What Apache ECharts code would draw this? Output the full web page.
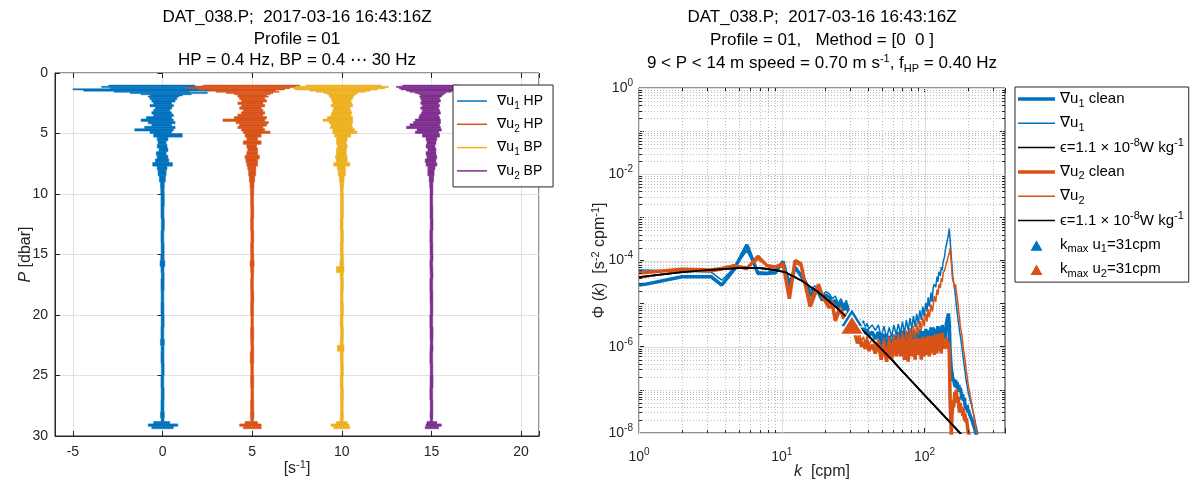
<!DOCTYPE html>
<html>
<head>
<meta charset="utf-8">
<script src="https://cdn.jsdelivr.net/npm/echarts@6.0.0/dist/echarts.min.js"></script>
<style>html,body{margin:0;padding:0;background:#fff}#c{width:1194px;height:489px}</style>
</head>
<body>
<div id="c"></div>
<script>
// ---------------- DATA ----------------
// Left panel: shear profiles (envelope of each trace: left / right deviation about its offset) vs pressure
const traceNames = ['u1HP', 'u2HP', 'u1BP', 'u2BP'];
const traceOffsets = [0, 5, 10, 15];
const P = [1.0,1.1,1.2,1.3,1.4,1.5,1.6,1.7,1.8,1.9,
           2.0,2.2,2.4,2.6,2.8,3.0,3.2,3.4,3.6,3.8,
           4.0,4.2,4.4,4.6,4.8,5.0,5.3,5.6,5.9,6.2,
           6.5,6.8,7.1,7.4,7.7,8.0,8.5,9.0,9.5,10,
           11,12,13,14,15,15.5,16,16.5,17,18,
           19,20,21,22,22.5,23,24,25,26,27,
           28,28.5,28.8,29.0,29.2,29.4];
const u1HP_L = [-3.0,-3.4,-2.9,-5.0,-4.4,-2.7,-1.8,-1.2,-0.7,-0.8,
                -0.7,-0.6,-0.5,-0.7,-0.4,-0.5,-0.6,-0.5,-0.9,-1.2,
                -0.8,-0.6,-1.0,-1.55,-0.7,-0.5,-0.3,-0.25,-0.3,-0.2,
                -0.35,-0.3,-0.4,-0.55,-0.3,-0.25,-0.18,-0.12,-0.1,-0.09,
                -0.09,-0.07,-0.09,-0.08,-0.1,-0.14,-0.09,-0.07,-0.09,-0.08,
                -0.09,-0.08,-0.09,-0.12,-0.08,-0.09,-0.07,-0.09,-0.08,-0.09,
                -0.12,-0.08,-0.5,-0.8,-0.6,-0.2];
const u1HP_R = [1.8,2.3,2.0,2.9,2.6,1.5,2.5,1.6,1.1,0.9,
                0.8,0.7,0.5,0.6,0.5,0.4,0.5,0.6,0.5,0.6,
                0.7,0.5,0.7,0.6,0.5,1.1,0.3,0.2,0.25,0.3,
                0.2,0.3,0.35,0.55,0.25,0.2,0.16,0.1,0.09,0.1,
                0.08,0.1,0.07,0.09,0.09,0.13,0.08,0.09,0.09,0.07,
                0.08,0.09,0.07,0.1,0.08,0.08,0.09,0.07,0.09,0.08,
                0.1,0.08,0.4,0.85,0.6,0.2];
const u2HP_L = [-2.75,-3.2,-3.67,-3.0,-2.4,-2.0,-1.44,-1.0,-0.8,-0.8,
                -0.7,-0.6,-0.8,-0.6,-0.7,-0.5,-0.6,-0.8,-1.0,-1.63,
                -0.9,-0.7,-0.8,-0.6,-0.5,-0.4,-0.3,-0.5,-0.3,-0.25,
                -0.3,-0.4,-0.35,-0.3,-0.25,-0.2,-0.16,-0.12,-0.1,-0.09,
                -0.08,-0.09,-0.07,-0.09,-0.08,-0.12,-0.09,-0.07,-0.09,-0.08,
                -0.09,-0.07,-0.09,-0.08,-0.07,-0.11,-0.08,-0.09,-0.07,-0.09,
                -0.1,-0.08,-0.4,-0.7,-0.5,-0.2];
const u2HP_R = [2.65,2.4,2.1,1.8,1.3,1.5,1.16,1.0,0.8,0.9,
                0.7,0.8,0.6,0.7,0.5,0.6,0.7,0.6,0.8,0.7,
                0.9,0.8,0.6,0.7,1.0,0.5,0.3,0.5,0.25,0.3,
                0.3,0.4,0.3,0.3,0.2,0.2,0.14,0.1,0.09,0.08,
                0.09,0.07,0.09,0.08,0.09,0.11,0.09,0.08,0.07,0.09,
                0.08,0.07,0.09,0.08,0.09,0.09,0.07,0.09,0.08,0.09,
                0.1,0.08,0.3,0.5,0.5,0.2];
const u1BP_L = [-2.0,-2.5,-2.7,-2.6,-1.8,-1.4,-1.0,-0.8,-0.7,-0.7,
                -0.6,-0.55,-0.5,-0.6,-0.45,-0.5,-0.55,-0.6,-0.8,-1.05,
                -0.7,-0.6,-0.65,-0.5,-0.5,-0.4,-0.3,-0.3,-0.25,-0.3,
                -0.3,-0.35,-0.3,-0.45,-0.25,-0.2,-0.14,-0.1,-0.08,-0.08,
                -0.08,-0.09,-0.07,-0.09,-0.08,-0.11,-0.3,-0.09,-0.07,-0.08,
                -0.08,-0.09,-0.07,-0.09,-0.25,-0.09,-0.07,-0.09,-0.08,-0.07,
                -0.08,-0.09,-0.3,-0.6,-0.45,-0.15];
const u1BP_R = [2.2,2.6,2.4,2.0,1.6,1.3,0.9,0.8,0.7,0.65,
                0.6,0.5,0.55,0.6,0.45,0.5,0.55,0.5,0.6,0.6,
                0.6,0.55,0.6,0.7,0.85,0.5,0.3,0.25,0.3,0.25,
                0.25,0.3,0.3,0.45,0.2,0.2,0.13,0.1,0.08,0.09,
                0.09,0.07,0.09,0.08,0.09,0.1,0.12,0.08,0.09,0.07,
                0.09,0.07,0.09,0.08,0.12,0.08,0.09,0.07,0.09,0.08,
                0.09,0.08,0.3,0.4,0.45,0.15];
const u2BP_L = [-1.6,-1.95,-1.8,-1.7,-1.4,-1.2,-0.9,-0.7,-0.6,-0.65,
                -0.6,-0.55,-0.6,-0.5,-0.6,-0.5,-0.55,-0.65,-0.7,-0.9,
                -1.0,-1.2,-1.39,-0.8,-0.9,-0.5,-0.3,-0.25,-0.3,-0.2,
                -0.3,-0.25,-0.35,-0.3,-0.2,-0.2,-0.13,-0.1,-0.08,-0.08,
                -0.08,-0.07,-0.09,-0.08,-0.07,-0.09,-0.08,-0.07,-0.09,-0.08,
                -0.07,-0.09,-0.08,-0.07,-0.08,-0.09,-0.07,-0.08,-0.09,-0.07,
                -0.08,-0.07,-0.25,-0.3,-0.35,-0.1];
const u2BP_R = [1.6,2.0,1.8,1.6,1.3,1.1,0.8,0.7,0.6,0.55,
                0.45,0.5,0.4,0.45,0.4,0.45,0.5,0.4,0.45,0.5,
                0.5,0.45,0.5,0.55,0.4,0.45,0.3,0.25,0.2,0.25,
                0.25,0.3,0.25,0.3,0.2,0.15,0.12,0.08,0.08,0.07,
                0.08,0.09,0.07,0.08,0.09,0.07,0.08,0.09,0.07,0.08,
                0.08,0.07,0.09,0.08,0.09,0.07,0.08,0.09,0.07,0.08,
                0.08,0.07,0.3,0.55,0.4,0.1];

// Right panel: wavenumber spectra
const kSpec = [1.0,1.1,2.0,3.2,3.8,4.6,5.7,6.8,7.9,9.0,
               10.2,11.3,12.4,13.6,14.7,15.8,17.0,18.1,19.2,20.3,
               21.5,22.6,23.7,24.9,26.0,27.1,28.3,29.4,30.5,31.6,
               32.8,33.9,35.0,36.2,37.3,38.4,39.6,40.7,43.0,45.2,
               47.5,49.7,52.0,54.2,56.5,58.8,61.0,63.3,65.5,67.8,
               70.0,72.3,74.6,76.8,79.1,81.4,83.6,85.9,88.1,90.4,
               92.7,94.9,97.2,99.4,102,104,106,108,111,113,
               115,117,120,122,124,126,129,131,133,135,
               138,140,142,144,147,149,151,154,156,158,
               160,163,165,167,169,172,174,176,178,181,
               183,185,187,190,192,194,196,199,201,203,
               206,208,210,215,219,224,228,233,237,242];
const phiU1clean = [2.7e-5,2.8e-5,4.2e-5,4.2e-5,2.7e-5,6.0e-5,2.3e-4,5.0e-5,5.0e-5,5.2e-5,
               9.5e-5,2.5e-5,7.0e-5,4.5e-5,3.0e-5,1.5e-5,2.2e-5,1.8e-5,1.2e-5,1.6e-5,
               1.4e-5,1.0e-5,1.2e-5,8.0e-6,1.1e-5,7.0e-6,1.0e-5,6.0e-6,5.0e-6,4.5e-6,
               4.0e-6,3.0e-6,3.5e-6,2.5e-6,3.0e-6,2.0e-6,2.6e-6,1.8e-6,2.2e-6,1.5e-6,
               2.2e-6,1.0e-6,2.0e-6,8.0e-7,1.8e-6,7.5e-7,1.9e-6,9.0e-7,2.2e-6,1.0e-6,
               2.4e-6,9.0e-7,2.2e-6,1.0e-6,2.6e-6,1.1e-6,2.4e-6,9.0e-7,2.2e-6,1.1e-6,
               2.5e-6,1.0e-6,2.3e-6,9.0e-7,2.6e-6,1.1e-6,2.4e-6,1.0e-6,2.8e-6,1.2e-6,
               2.8e-6,1.1e-6,2.6e-6,1.2e-6,3.0e-6,1.3e-6,2.8e-6,1.2e-6,3.2e-6,1.4e-6,
               2.8e-6,1.3e-6,3.4e-6,3.2e-6,5.9e-6,3.5e-6,8.0e-7,3.0e-7,2.4e-7,1.6e-7,
               1.8e-7,1.2e-7,1.7e-7,1.1e-7,1.5e-7,1.0e-7,1.3e-7,9.0e-8,1.1e-7,8.0e-8,
               6.0e-8,8.0e-8,5.5e-8,6.5e-8,4.5e-8,5.0e-8,3.5e-8,4.5e-8,3.0e-8,3.5e-8,
               2.8e-8,3.0e-8,2.4e-8,2.0e-8,1.6e-8,1.3e-8,1.0e-8,8.0e-9,6.0e-9,5.0e-9];
const phiU1 = [6.0e-5,6.0e-5,5.6e-5,5.4e-5,3.5e-5,6.5e-5,1.7e-4,5.5e-5,5.3e-5,6.0e-5,
               9.0e-5,3.5e-5,6.0e-5,5.0e-5,3.5e-5,2.0e-5,2.6e-5,2.2e-5,1.5e-5,1.9e-5,
               1.7e-5,1.3e-5,1.5e-5,1.0e-5,1.3e-5,9.0e-6,1.2e-5,7.5e-6,6.0e-6,5.5e-6,
               4.8e-6,3.8e-6,4.5e-6,3.2e-6,4.0e-6,2.8e-6,3.5e-6,2.6e-6,3.2e-6,2.4e-6,
               3.2e-6,1.7e-6,3.0e-6,1.6e-6,2.8e-6,1.7e-6,3.2e-6,1.9e-6,3.4e-6,2.0e-6,
               3.8e-6,2.1e-6,4.2e-6,2.4e-6,4.6e-6,2.6e-6,5.2e-6,2.9e-6,5.8e-6,3.4e-6,
               7.0e-6,4.2e-6,8.5e-6,5.0e-6,1.05e-5,6.5e-6,1.4e-5,8.5e-6,1.8e-5,1.1e-5,
               2.4e-5,2.8e-5,2.4e-5,4.2e-5,3.2e-5,5.5e-5,4.4e-5,7.0e-5,6.0e-5,9.5e-5,
               1.2e-4,1.8e-4,2.0e-4,2.8e-4,4.0e-4,5.5e-4,3.0e-4,1.2e-4,7.0e-5,4.0e-5,
               3.0e-5,2.0e-5,1.4e-5,9.0e-6,6.5e-6,4.0e-6,3.2e-6,2.2e-6,1.8e-6,1.2e-6,
               9.0e-7,7.0e-7,5.0e-7,3.5e-7,2.8e-7,2.0e-7,1.6e-7,1.2e-7,1.0e-7,8.0e-8,
               7.0e-8,6.0e-8,5.5e-8,4.0e-8,3.0e-8,2.2e-8,1.6e-8,1.2e-8,9.0e-9,7.0e-9];
const phiU2clean = [5.2e-5,5.3e-5,6.3e-5,6.0e-5,6.5e-5,7.5e-5,6.5e-5,1.25e-4,7.5e-5,7.0e-5,
               8.5e-5,1.3e-5,1.0e-4,8.5e-5,2.5e-5,8.5e-6,1.6e-5,2.8e-5,1.5e-5,1.1e-5,
               8.0e-6,1.0e-5,4.0e-6,6.0e-6,7.0e-6,4.5e-6,5.0e-6,3.5e-6,3.0e-6,3.2e-6,
               1.8e-6,1.2e-6,1.6e-6,1.0e-6,1.3e-6,9.0e-7,1.4e-6,8.0e-7,1.1e-6,7.0e-7,
               1.2e-6,5.0e-7,1.1e-6,4.5e-7,1.3e-6,5.0e-7,1.4e-6,6.0e-7,1.5e-6,6.0e-7,
               1.6e-6,5.0e-7,1.4e-6,4.5e-7,1.7e-6,6.0e-7,1.5e-6,5.0e-7,1.6e-6,6.5e-7,
               1.5e-6,5.0e-7,1.7e-6,6.0e-7,1.6e-6,6.5e-7,1.8e-6,6.0e-7,1.7e-6,7.0e-7,
               1.8e-6,6.5e-7,1.9e-6,7.0e-7,2.0e-6,8.0e-7,1.9e-6,7.0e-7,2.1e-6,9.0e-7,
               1.5e-6,9.0e-7,1.6e-6,1.0e-6,1.3e-6,6.9e-7,5.7e-8,9.0e-9,3.0e-8,5.7e-8,
               4.0e-8,9.0e-8,6.0e-8,1.0e-7,5.0e-8,7.0e-8,4.0e-8,3.0e-8,5.0e-8,3.0e-8,
               4.0e-8,2.5e-8,3.5e-8,2.0e-8,2.8e-8,1.8e-8,2.2e-8,1.6e-8,1.2e-8,1.0e-8,
               9.0e-9,8.0e-9,7.0e-9,6.0e-9,5.0e-9,4.0e-9,3.5e-9,3.0e-9,2.5e-9,2.0e-9];
const phiU2 = [4.0e-5,4.1e-5,5.8e-5,5.5e-5,6.0e-5,8.0e-5,7.0e-5,1.05e-4,8.0e-5,7.5e-5,
               7.0e-5,2.0e-5,8.5e-5,7.5e-5,3.0e-5,1.2e-5,2.0e-5,2.4e-5,1.3e-5,1.4e-5,
               1.0e-5,1.2e-5,5.0e-6,7.5e-6,8.5e-6,5.5e-6,6.0e-6,4.5e-6,4.0e-6,3.8e-6,
               2.2e-6,1.5e-6,2.0e-6,1.3e-6,1.7e-6,1.2e-6,1.8e-6,1.1e-6,1.5e-6,1.0e-6,
               1.5e-6,8.0e-7,1.6e-6,7.0e-7,1.7e-6,9.0e-7,1.9e-6,1.0e-6,2.0e-6,1.1e-6,
               2.2e-6,1.1e-6,2.4e-6,1.2e-6,2.7e-6,1.4e-6,3.0e-6,1.6e-6,3.5e-6,1.9e-6,
               4.0e-6,2.4e-6,4.8e-6,3.0e-6,6.0e-6,3.8e-6,7.5e-6,4.8e-6,9.5e-6,6.5e-6,
               9.0e-6,1.5e-5,1.1e-5,2.1e-5,1.6e-5,2.8e-5,2.3e-5,3.9e-5,3.2e-5,5.2e-5,
               6.0e-5,7.0e-5,8.5e-5,1.0e-4,1.3e-4,1.5e-4,1.9e-4,9.0e-5,4.5e-5,3.5e-5,
               3.0e-5,2.2e-5,2.8e-5,1.8e-5,1.5e-5,9.0e-6,6.0e-6,4.5e-6,3.0e-6,2.2e-6,
               1.8e-6,1.3e-6,9.0e-7,6.5e-7,5.0e-7,3.8e-7,2.8e-7,2.0e-7,1.5e-7,1.2e-7,
               1.0e-7,8.0e-8,6.5e-8,4.5e-8,3.0e-8,2.0e-8,1.3e-8,9.0e-9,7.0e-9,5.0e-9];
// Nasmyth spectrum for epsilon = 1.1e-8 W/kg
const nasK = [1,2,3,5,7,9,10.5,12,14,16,18,21,24,27,31,35,40,50,60,70,85,100,120,140,160,180,200];
const nasPhi = [4.1e-5,5.4e-5,6.0e-5,6.7e-5,6.7e-5,6.0e-5,5.4e-5,4.3e-5,3.3e-5,2.4e-5,1.85e-5,1.2e-5,8.3e-6,5.7e-6,3.7e-6,2.7e-6,1.86e-6,8.8e-7,4.7e-7,2.7e-7,1.35e-7,7.6e-8,4.0e-8,2.3e-8,1.45e-8,9.4e-9,6.0e-9];
// k_max markers
const kmaxK = [31, 31];
const kmaxPhi = [4.8e-6, 3.2e-6];

// Tick / grid positions of the log axes
const xLogMajor = [1, 10, 100];
const xLogMinor = [2,3,4,5,6,7,8,9,20,30,40,50,60,70,80,90,200,300];
const yLogMajor = [1, 1e-2, 1e-4, 1e-6, 1e-8];
const yLogDecades = [1e-8,1e-7,1e-6,1e-5,1e-4,1e-3,1e-2,1e-1];
const yLogOddDecades = [1e-7,1e-5,1e-3,1e-1];
const minorMult = [2,3,4,5,6,7,8,9];

// Text
const titleLeft = ['DAT_038.P;  2017-03-16 16:43:16Z', 'Profile = 01', 'HP = 0.4 Hz, BP = 0.4 \u22EF 30 Hz'];
const titleRight = ['DAT_038.P;  2017-03-16 16:43:16Z', 'Profile = 01,   Method = [0  0 ]',
                    '9 < P < 14 m speed = 0.70 m s{sup|-1}, f{sub|HP} = 0.40 Hz'];
const legendLabels = {
  u1HP: '\u2207u{sub|1} HP', u2HP: '\u2207u{sub|2} HP', u1BP: '\u2207u{sub|1} BP', u2BP: '\u2207u{sub|2} BP',
  u1c: '\u2207u{sub|1} clean', u1: '\u2207u{sub|1}', eps1: '\u03F5=1.1 \u00D7 10{sup|-8}W kg{sup|-1}',
  u2c: '\u2207u{sub|2} clean', u2: '\u2207u{sub|2}', eps2: '\u03F5=1.1 \u00D7 10{sup|-8}W kg{sup|-1}',
  kmax1: 'k{sub|max} u{sub|1}=31cpm', kmax2: 'k{sub|max} u{sub|2}=31cpm'
};

// ---------------- STYLE ----------------
const FONT = 'Liberation Sans, Arial, DejaVu Sans, sans-serif';
const AX = '#262626';
const C = {blue: '#0072BD', orange: '#D95319', yellow: '#EDB120', purple: '#7E2F8E'};
const traceColors = [C.blue, C.orange, C.yellow, C.purple];
const traceL = [u1HP_L, u2HP_L, u1BP_L, u2BP_L];
const traceR = [u1HP_R, u2HP_R, u1BP_R, u2BP_R];

function rich(size, color) {
  return {
    sup: {fontFamily: FONT, fontSize: size, lineHeight: size, verticalAlign: 'top', color: color},
    sub: {fontFamily: FONT, fontSize: size, lineHeight: size, verticalAlign: 'bottom', color: color},
    it: {fontFamily: FONT, fontStyle: 'italic', color: color}
  };
}

// each row: [left edge, right edge, P top, P bottom]
function buildTrace(L, R, off) {
  const rows = [];
  for (let i = 0; i < P.length - 1; i++) rows.push([off + L[i], off + R[i], P[i], P[i + 1]]);
  return rows;
}
function renderTrace(params, api) {
  const a = api.coord([api.value(0), api.value(2)]);
  const b = api.coord([api.value(1), api.value(3)]);
  const col = api.visual('color');
  return {type: 'rect', shape: {x: a[0], y: a[1], width: b[0] - a[0], height: b[1] - a[1]},
    style: {fill: col, stroke: col, lineWidth: 0.5}};
}
function renderLogGrid(params, api) {
  const cs = params.coordSys;
  const ch = [];
  const vline = (v, major) => {
    const x = Math.round(api.coord([v, 1e-4])[0]) + 0.5;
    ch.push({type: 'line', shape: {x1: x, y1: cs.y, x2: x, y2: cs.y + cs.height},
      style: {stroke: major ? '#dedede' : '#bdbdbd', lineWidth: 1, lineDash: major ? null : [1, 2]}});
  };
  const hline = (v, major) => {
    const y = Math.round(api.coord([10, v])[1]) + 0.5;
    ch.push({type: 'line', shape: {x1: cs.x, y1: y, x2: cs.x + cs.width, y2: y},
      style: {stroke: major ? '#dedede' : '#bdbdbd', lineWidth: 1, lineDash: major ? null : [1, 2]}});
  };
  xLogMinor.forEach(v => vline(v, false));
  yLogDecades.forEach(d => minorMult.forEach(m => hline(d * m, false)));
  yLogOddDecades.forEach(v => hline(v, false));
  xLogMajor.forEach(v => vline(v, true));
  yLogMajor.forEach(v => hline(v, true));
  return {type: 'group', children: ch};
}
function renderLogTicks(params, api) {
  const cs = params.coordSys;
  const ch = [];
  const st = {stroke: AX, lineWidth: 1};
  xLogMinor.forEach(v => {
    const x = Math.round(api.coord([v, 1e-4])[0]) + 0.5;
    ch.push({type: 'line', shape: {x1: x, y1: cs.y + cs.height, x2: x, y2: cs.y + cs.height - 3}, style: st});
    ch.push({type: 'line', shape: {x1: x, y1: cs.y, x2: x, y2: cs.y + 3}, style: st});
  });
  yLogDecades.forEach(d => minorMult.forEach(m => {
    const y = Math.round(api.coord([10, d * m])[1]) + 0.5;
    ch.push({type: 'line', shape: {x1: cs.x, y1: y, x2: cs.x + 3, y2: y}, style: st});
    ch.push({type: 'line', shape: {x1: cs.x + cs.width, y1: y, x2: cs.x + cs.width - 3, y2: y}, style: st});
  }));
  return {type: 'group', children: ch};
}
function powLabel(v) {
  const e = Math.log10(v), r = Math.round(e);
  if (Math.abs(e - r) > 1e-6) return '';
  return '10{sup|' + r + '}';
}
function powLabelEven(v) {
  const e = Math.log10(v), r = Math.round(e);
  if (Math.abs(e - r) > 1e-6 || r % 2 !== 0) return '';
  return '10{sup|' + r + '}';
}

const tick = {show: true, inside: true, length: 5, lineStyle: {color: AX, width: 1}};
const axLine = {show: true, onZero: false, lineStyle: {color: AX, width: 1}};
const lblBase = {color: AX, fontFamily: FONT, fontSize: 14};

const thick = 'path://M0,0M37,14M0,5.25L37,5.25L37,8.75L0,8.75Z';
const thin37 = 'path://M0,0M37,14M0,6.25L37,6.25L37,7.75L0,7.75Z';
const thin35 = 'path://M0,0M35,14M0,6.25L30,6.25L30,7.75L0,7.75Z';
const tri37 = 'path://M0,0M37,14M12.5,13L18.5,2.5L24.5,13Z';

const series = [];
traceNames.forEach((n, i) => {
  series.push({
    type: 'custom', name: n, xAxisIndex: 0, yAxisIndex: 0,
    renderItem: renderTrace, data: buildTrace(traceL[i], traceR[i], traceOffsets[i]),
    encode: {x: [0, 1], y: [2, 3]}, itemStyle: {color: traceColors[i]},
    silent: true, animation: false, z: 2
  });
});
series.push({type: 'custom', name: 'gridLog', xAxisIndex: 2, yAxisIndex: 2, renderItem: renderLogGrid,
  data: [[10, 1e-4]], silent: true, animation: false, z: 1});
function specLine(name, phi, color, width) {
  return {type: 'line', name: name, xAxisIndex: 2, yAxisIndex: 2,
    data: kSpec.map((k, i) => [k, phi[i]]), symbol: 'none', showSymbol: false,
    lineStyle: {color: color, width: width}, itemStyle: {color: color},
    silent: true, animation: false, clip: true, z: 2};
}
function nasLine(name) {
  return {type: 'line', name: name, xAxisIndex: 2, yAxisIndex: 2,
    data: nasK.map((k, i) => [k, nasPhi[i]]), symbol: 'none', showSymbol: false,
    lineStyle: {color: '#000', width: 1.8}, itemStyle: {color: '#000'},
    silent: true, animation: false, clip: true, z: 2};
}
series.push(specLine('u1c', phiU1clean, C.blue, 3.5));
series.push(specLine('u1', phiU1, C.blue, 1.5));
series.push(nasLine('eps1'));
series.push(specLine('u2c', phiU2clean, C.orange, 3.5));
series.push(specLine('u2', phiU2, C.orange, 1.5));
series.push(nasLine('eps2'));
['kmax1', 'kmax2'].forEach((n, i) => {
  series.push({type: 'scatter', name: n, xAxisIndex: 2, yAxisIndex: 2,
    data: [[kmaxK[i], kmaxPhi[i]]], symbol: 'triangle', symbolSize: [24, 19],
    itemStyle: {color: i === 0 ? C.blue : C.orange, borderColor: '#fff', borderWidth: 1.5, opacity: 1},
    silent: true, animation: false, z: 3});
});
series.push({type: 'custom', name: 'ticksLog', xAxisIndex: 2, yAxisIndex: 2, renderItem: renderLogTicks,
  data: [[10, 1e-4]], silent: true, animation: false, z: 4});

function titleItem(text, x, top) {
  return {text: text, left: x, top: top, textAlign: 'center', padding: 0,
    textStyle: {fontFamily: FONT, fontSize: 17, fontWeight: 'normal', color: '#000', lineHeight: 21,
      rich: rich(11, '#000')}};
}
const nameStyle = {fontFamily: FONT, fontSize: 16, color: AX, lineHeight: 20, rich: rich(11, AX)};

const option = {
  backgroundColor: '#fff',
  animation: false,
  textStyle: {fontFamily: FONT},
  title: [
    titleItem(titleLeft[0], 297, 7), titleItem(titleLeft[1], 297, 28.5), titleItem(titleLeft[2], 297, 50),
    titleItem(titleRight[0], 822, 7), titleItem(titleRight[1], 822, 29.5), titleItem(titleRight[2], 822, 53)
  ],
  grid: [
    {left: 55, top: 73, width: 484, height: 363, show: true, borderColor: AX, borderWidth: 1, backgroundColor: 'transparent', containLabel: false, outerBoundsMode: 'none'},
    {left: 639, top: 88, width: 366, height: 345, show: true, borderColor: AX, borderWidth: 1, backgroundColor: 'transparent', containLabel: false, outerBoundsMode: 'none'}
  ],
  xAxis: [
    {gridIndex: 0, type: 'value', min: -6, max: 21, position: 'bottom',
     axisLine: axLine, axisTick: tick,
     axisLabel: Object.assign({}, lblBase, {margin: 8, lineHeight: 16, formatter: v => (v % 5 === 0 ? String(v) : '')}),
     splitLine: {show: true, lineStyle: {color: '#e0e0e0', width: 1}},
     name: '[s{sup|-1}]', nameLocation: 'middle', nameGap: 23, nameMoveOverlap: false, nameTextStyle: nameStyle},
    {gridIndex: 0, type: 'value', min: -6, max: 21, position: 'top',
     axisLine: {show: false}, axisTick: tick, axisLabel: {show: false}, splitLine: {show: false}},
    {gridIndex: 1, type: 'log', logBase: 10, min: 1, max: 366, position: 'bottom',
     axisLine: axLine, axisTick: tick,
     axisLabel: Object.assign({}, lblBase, {margin: 14, lineHeight: 20, formatter: powLabel, rich: rich(10, AX)}),
     splitLine: {show: false}, minorTick: {show: false}, minorSplitLine: {show: false},
     name: '{it|k}  [cpm]', nameLocation: 'middle', nameGap: 29, nameMoveOverlap: false, nameTextStyle: nameStyle},
    {gridIndex: 1, type: 'log', logBase: 10, min: 1, max: 366, position: 'top',
     axisLine: {show: false}, axisTick: tick, axisLabel: {show: false}, splitLine: {show: false}}
  ],
  yAxis: [
    {gridIndex: 0, type: 'value', min: 0, max: 30, interval: 5, inverse: true, position: 'left',
     axisLine: axLine, axisTick: tick,
     axisLabel: Object.assign({}, lblBase, {margin: 7, lineHeight: 16}),
     splitLine: {show: true, lineStyle: {color: '#e0e0e0', width: 1}},
     name: '{it|P} [dbar]', nameLocation: 'middle', nameGap: 19, nameRotate: 90, nameMoveOverlap: false,
     nameTextStyle: nameStyle},
    {gridIndex: 0, type: 'value', min: 0, max: 30, interval: 5, inverse: true, position: 'right',
     axisLine: {show: false}, axisTick: tick, axisLabel: {show: false}, splitLine: {show: false}},
    {gridIndex: 1, type: 'log', logBase: 10, min: 1e-8, max: 1, position: 'left',
     axisLine: axLine, axisTick: tick,
     axisLabel: Object.assign({}, lblBase, {margin: 6, lineHeight: 20, formatter: powLabelEven, rich: rich(10, AX)}),
     splitLine: {show: false}, minorTick: {show: false}, minorSplitLine: {show: false},
     name: '\u03A6 ({it|k})  [s{sup|-2} cpm{sup|-1}]', nameLocation: 'middle', nameGap: 29, nameRotate: 90,
     nameMoveOverlap: false, nameTextStyle: nameStyle},
    {gridIndex: 1, type: 'log', logBase: 10, min: 1e-8, max: 1, position: 'right',
     axisLine: {show: false}, axisTick: tick, axisLabel: {show: false}, splitLine: {show: false}}
  ],
  legend: [
    {orient: 'vertical', left: 453, top: 85, padding: [6, 10, 6, 4], itemGap: 3.3,
     itemWidth: 35, itemHeight: 14, backgroundColor: '#fff', borderColor: AX, borderWidth: 1, borderRadius: 0,
     selectedMode: false, itemStyle: {borderWidth: 0},
     data: traceNames.map(n => ({name: n, icon: thin35})),
     formatter: n => legendLabels[n],
     textStyle: {fontFamily: FONT, fontSize: 14, color: '#000', lineHeight: 20, rich: rich(10, '#000')}},
    {orient: 'vertical', left: 1015, top: 87, padding: [2, 5, 3, 3], itemGap: 4.3,
     itemWidth: 37, itemHeight: 14, backgroundColor: '#fff', borderColor: AX, borderWidth: 1, borderRadius: 0,
     selectedMode: false, itemStyle: {borderWidth: 0},
     data: [
       {name: 'u1c', icon: thick}, {name: 'u1', icon: thin37}, {name: 'eps1', icon: thin37},
       {name: 'u2c', icon: thick}, {name: 'u2', icon: thin37}, {name: 'eps2', icon: thin37},
       {name: 'kmax1', icon: tri37}, {name: 'kmax2', icon: tri37}
     ],
     formatter: n => legendLabels[n],
     textStyle: {fontFamily: FONT, fontSize: 15, color: '#000', lineHeight: 20, rich: rich(11, '#000')}}
  ],
  series: series
};

const chart = echarts.init(document.getElementById('c'), null, {renderer: 'canvas', width: 1194, height: 489});
chart.setOption(option);
</script>
</body>
</html>
